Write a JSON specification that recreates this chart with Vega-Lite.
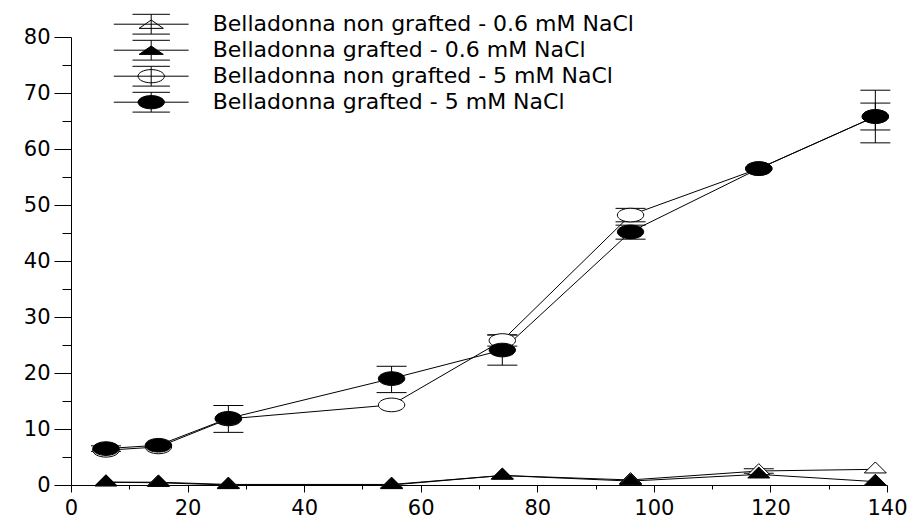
{
  "$schema": "https://vega.github.io/schema/vega-lite/v6.json",
  "width": 816,
  "height": 448,
  "autosize": {"type": "none"},
  "padding": {"left": 71, "top": 37, "right": 34, "bottom": 37},
  "background": "white",
  "config": {
    "view": {"stroke": null},
    "axis": {
      "grid": false,
      "title": null,
      "domainColor": "black",
      "tickColor": "black",
      "labelColor": "black",
      "labelFont": "DejaVu Sans",
      "labelFontSize": 21,
      "labelOverlap": false,
      "labelFlush": false
    },
    "legend": {
      "orient": "none", "legendX": 68.7, "legendY": -24.3, "title": null, "padding": 0,
      "symbolSize": 484, "symbolStrokeWidth": 1,
      "labelFont": "DejaVu Sans", "labelFontSize": 22, "labelColor": "black", "labelOffset": 50, "labelLimit": 0, "rowPadding": 1
    }
  },
  "datasets": {
    "points": [
      {"series": "Belladonna non grafted - 0.6 mM NaCl", "day": 6, "value": 0.5},
      {"series": "Belladonna non grafted - 0.6 mM NaCl", "day": 15, "value": 0.5},
      {"series": "Belladonna non grafted - 0.6 mM NaCl", "day": 27, "value": 0.1},
      {"series": "Belladonna non grafted - 0.6 mM NaCl", "day": 55, "value": 0.1},
      {"series": "Belladonna non grafted - 0.6 mM NaCl", "day": 74, "value": 1.7},
      {"series": "Belladonna non grafted - 0.6 mM NaCl", "day": 96, "value": 0.9},
      {"series": "Belladonna non grafted - 0.6 mM NaCl", "day": 118, "value": 2.5},
      {"series": "Belladonna non grafted - 0.6 mM NaCl", "day": 138, "value": 2.8},
      {"series": "Belladonna grafted - 0.6 mM NaCl", "day": 6, "value": 0.5},
      {"series": "Belladonna grafted - 0.6 mM NaCl", "day": 15, "value": 0.4},
      {"series": "Belladonna grafted - 0.6 mM NaCl", "day": 27, "value": 0.0},
      {"series": "Belladonna grafted - 0.6 mM NaCl", "day": 55, "value": 0.0},
      {"series": "Belladonna grafted - 0.6 mM NaCl", "day": 74, "value": 1.7},
      {"series": "Belladonna grafted - 0.6 mM NaCl", "day": 96, "value": 0.7},
      {"series": "Belladonna grafted - 0.6 mM NaCl", "day": 118, "value": 1.9},
      {"series": "Belladonna grafted - 0.6 mM NaCl", "day": 138, "value": 0.6},
      {"series": "Belladonna non grafted - 5 mM NaCl", "day": 6, "value": 6.2},
      {"series": "Belladonna non grafted - 5 mM NaCl", "day": 15, "value": 6.8},
      {"series": "Belladonna non grafted - 5 mM NaCl", "day": 27, "value": 11.8},
      {"series": "Belladonna non grafted - 5 mM NaCl", "day": 55, "value": 14.3},
      {"series": "Belladonna non grafted - 5 mM NaCl", "day": 74, "value": 25.8},
      {"series": "Belladonna non grafted - 5 mM NaCl", "day": 96, "value": 48.2},
      {"series": "Belladonna non grafted - 5 mM NaCl", "day": 118, "value": 56.5},
      {"series": "Belladonna non grafted - 5 mM NaCl", "day": 138, "value": 65.8},
      {"series": "Belladonna grafted - 5 mM NaCl", "day": 6, "value": 6.5},
      {"series": "Belladonna grafted - 5 mM NaCl", "day": 15, "value": 7.1},
      {"series": "Belladonna grafted - 5 mM NaCl", "day": 27, "value": 11.9},
      {"series": "Belladonna grafted - 5 mM NaCl", "day": 55, "value": 19.0},
      {"series": "Belladonna grafted - 5 mM NaCl", "day": 74, "value": 24.1},
      {"series": "Belladonna grafted - 5 mM NaCl", "day": 96, "value": 45.2},
      {"series": "Belladonna grafted - 5 mM NaCl", "day": 118, "value": 56.5},
      {"series": "Belladonna grafted - 5 mM NaCl", "day": 138, "value": 65.8}
    ],
    "errors": [
      {"series": "Belladonna non grafted - 0.6 mM NaCl", "day": 118, "lo": 2.1, "hi": 2.9},
      {"series": "Belladonna non grafted - 5 mM NaCl", "day": 74, "lo": 24.8, "hi": 26.8},
      {"series": "Belladonna non grafted - 5 mM NaCl", "day": 96, "lo": 47.0, "hi": 49.4},
      {"series": "Belladonna non grafted - 5 mM NaCl", "day": 138, "lo": 63.4, "hi": 68.2},
      {"series": "Belladonna grafted - 5 mM NaCl", "day": 6, "lo": 6.0, "hi": 7.0},
      {"series": "Belladonna grafted - 5 mM NaCl", "day": 27, "lo": 9.4, "hi": 14.2},
      {"series": "Belladonna grafted - 5 mM NaCl", "day": 55, "lo": 16.5, "hi": 21.2},
      {"series": "Belladonna grafted - 5 mM NaCl", "day": 74, "lo": 21.4, "hi": 26.8},
      {"series": "Belladonna grafted - 5 mM NaCl", "day": 96, "lo": 43.9, "hi": 46.4},
      {"series": "Belladonna grafted - 5 mM NaCl", "day": 138, "lo": 61.1, "hi": 70.5}
    ]
  },
  "resolve": {
    "axis": {"x": "independent", "y": "independent"},
    "scale": {"shape": "independent", "fill": "independent", "stroke": "independent"}
  },
  "layer": [
    {
      "data": {"name": "points"},
      "mark": {"type": "line", "color": "black", "strokeWidth": 1},
      "encoding": {
        "x": {
          "field": "day", "type": "quantitative",
          "scale": {"domain": [0, 140], "nice": false, "zero": false},
          "axis": {"orient": "bottom", "values": [0, 20, 40, 60, 80, 100, 120, 140], "tickSize": 7, "labelPadding": 5}
        },
        "y": {
          "field": "value", "type": "quantitative",
          "scale": {"domain": [0, 80], "nice": false, "zero": false},
          "axis": {"orient": "left", "values": [0, 10, 20, 30, 40, 50, 60, 70, 80], "tickSize": 17, "labelPadding": 4}
        },
        "detail": {"field": "series"}
      }
    },
    {
      "data": {"name": "errors"},
      "mark": {"type": "rule", "color": "black", "strokeWidth": 1},
      "encoding": {
        "x": {
          "field": "day", "type": "quantitative",
          "scale": {"domain": [0, 140], "nice": false, "zero": false},
          "axis": {"orient": "bottom", "values": [10, 30, 50, 70, 90, 110, 130], "tickSize": 4, "labels": false, "domain": false}
        },
        "y": {
          "field": "lo", "type": "quantitative",
          "scale": {"domain": [0, 80], "nice": false, "zero": false},
          "axis": {"orient": "left", "values": [5, 15, 25, 35, 45, 55, 65, 75], "tickSize": 9, "labels": false, "domain": false}
        },
        "y2": {"field": "hi"}
      }
    },
    {
      "data": {"name": "errors"},
      "mark": {"type": "tick", "orient": "horizontal", "size": 30, "thickness": 1, "color": "black", "opacity": 1},
      "encoding": {
        "x": {"field": "day", "type": "quantitative", "scale": {"domain": [0, 140], "nice": false, "zero": false}, "axis": null},
        "y": {"field": "lo", "type": "quantitative", "scale": {"domain": [0, 80], "nice": false, "zero": false}, "axis": null}
      }
    },
    {
      "data": {"name": "errors"},
      "mark": {"type": "tick", "orient": "horizontal", "size": 30, "thickness": 1, "color": "black", "opacity": 1},
      "encoding": {
        "x": {"field": "day", "type": "quantitative", "scale": {"domain": [0, 140], "nice": false, "zero": false}, "axis": null},
        "y": {"field": "hi", "type": "quantitative", "scale": {"domain": [0, 80], "nice": false, "zero": false}, "axis": null}
      }
    },
    {
      "data": {"name": "points"},
      "mark": {"type": "point", "filled": true, "stroke": "black", "strokeWidth": 1, "size": 484, "opacity": 1},
      "encoding": {
        "x": {"field": "day", "type": "quantitative", "scale": {"domain": [0, 140], "nice": false, "zero": false}, "axis": null},
        "y": {"field": "value", "type": "quantitative", "scale": {"domain": [0, 80], "nice": false, "zero": false}, "axis": null},
        "shape": {
          "field": "series", "type": "nominal",
          "scale": {
            "domain": ["Belladonna non grafted - 0.6 mM NaCl", "Belladonna grafted - 0.6 mM NaCl", "Belladonna non grafted - 5 mM NaCl", "Belladonna grafted - 5 mM NaCl"],
            "range": ["M0,-0.67L1,0.33L-1,0.33Z", "M0,-0.67L1,0.33L-1,0.33Z", "M-1.2,0A1.2,0.62 0 1,1 1.2,0A1.2,0.62 0 1,1 -1.2,0Z", "M-1.2,0A1.2,0.62 0 1,1 1.2,0A1.2,0.62 0 1,1 -1.2,0Z"]
          },
          "legend": null
        },
        "fill": {
          "field": "series", "type": "nominal",
          "scale": {
            "domain": ["Belladonna non grafted - 0.6 mM NaCl", "Belladonna grafted - 0.6 mM NaCl", "Belladonna non grafted - 5 mM NaCl", "Belladonna grafted - 5 mM NaCl"],
            "range": ["white", "black", "white", "black"]
          },
          "legend": null
        }
      }
    },
    {
      "data": {"name": "points"},
      "transform": [{"filter": "false"}],
      "mark": {"type": "point", "filled": false, "strokeWidth": 1, "size": 484, "opacity": 1},
      "encoding": {
        "shape": {
          "field": "series", "type": "nominal",
          "scale": {
            "domain": ["Belladonna non grafted - 0.6 mM NaCl", "Belladonna grafted - 0.6 mM NaCl", "Belladonna non grafted - 5 mM NaCl", "Belladonna grafted - 5 mM NaCl"],
            "range": [
              "M0,-0.38L1.1,0.38L-1.1,0.38Z M-3.4,0L3.4,0 M-1.7,-0.9L1.7,-0.9 M-1.7,0.9L1.7,0.9 M0,-0.9L0,0.9",
              "M0,-0.38L1.1,0.38L-1.1,0.38Z M-3.4,0L3.4,0 M-1.7,-0.9L1.7,-0.9 M-1.7,0.9L1.7,0.9 M0,-0.9L0,0.9",
              "M-1.2,0A1.2,0.6 0 1,1 1.2,0A1.2,0.6 0 1,1 -1.2,0Z M-3.4,0L3.4,0 M-1.7,-0.9L1.7,-0.9 M-1.7,0.9L1.7,0.9 M0,-0.9L0,0.9",
              "M-1.2,0A1.2,0.6 0 1,1 1.2,0A1.2,0.6 0 1,1 -1.2,0Z M-3.4,0L3.4,0 M-1.7,-0.9L1.7,-0.9 M-1.7,0.9L1.7,0.9 M0,-0.9L0,0.9"
            ]
          }
        },
        "fill": {
          "field": "series", "type": "nominal",
          "scale": {
            "domain": ["Belladonna non grafted - 0.6 mM NaCl", "Belladonna grafted - 0.6 mM NaCl", "Belladonna non grafted - 5 mM NaCl", "Belladonna grafted - 5 mM NaCl"],
            "range": ["white", "black", "white", "black"]
          }
        },
        "stroke": {
          "field": "series", "type": "nominal",
          "scale": {
            "domain": ["Belladonna non grafted - 0.6 mM NaCl", "Belladonna grafted - 0.6 mM NaCl", "Belladonna non grafted - 5 mM NaCl", "Belladonna grafted - 5 mM NaCl"],
            "range": ["black", "black", "black", "black"]
          }
        }
      }
    }
  ]
}
